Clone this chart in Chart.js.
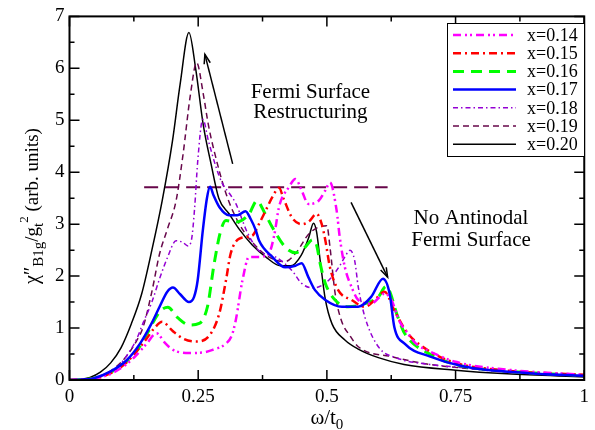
<!DOCTYPE html>
<html lang="en">
<head>
<meta charset="UTF-8">
<title>B1g Raman response vs doping</title>
<script src="https://cdn.jsdelivr.net/npm/chart.js"></script>
<style>
  html, body { margin: 0; padding: 0; background: #fff; }
</style>
</head>
<body>
<canvas id="myChart" width="595" height="430"></canvas>
<script>
// ---- data: [omega/t0, chi''] ----
const x014 = [[0,0],[0.03,0.01],[0.05,0.03],[0.08,0.12],[0.11,0.3],[0.13,0.48],[0.15,0.7],[0.169,0.9],[0.185,0.72],[0.201,0.58],[0.233,0.52],[0.26,0.53],[0.278,0.58],[0.304,0.7],[0.315,0.85],[0.323,1.15],[0.336,1.92],[0.349,2.37],[0.368,2.37],[0.387,2.43],[0.398,2.8],[0.407,3.33],[0.426,3.71],[0.439,3.87],[0.451,3.65],[0.464,3.39],[0.484,3.45],[0.497,3.65],[0.506,3.8],[0.519,3.26],[0.525,2.75],[0.535,2.17],[0.548,1.79],[0.561,1.54],[0.586,1.47],[0.612,1.66],[0.625,1.55],[0.64,1.15],[0.657,0.9],[0.673,0.7],[0.7,0.55],[0.75,0.35],[0.85,0.2],[1,0.1]];
const x015 = [[0,0],[0.03,0.01],[0.05,0.03],[0.08,0.13],[0.11,0.33],[0.13,0.55],[0.15,0.8],[0.165,1.0],[0.18,1.12],[0.2,0.95],[0.22,0.8],[0.246,0.74],[0.272,0.86],[0.291,1.28],[0.304,1.92],[0.313,2.43],[0.33,2.72],[0.355,2.78],[0.368,3.0],[0.381,3.26],[0.394,3.52],[0.407,3.7],[0.416,3.49],[0.432,3.13],[0.451,3.0],[0.465,3.05],[0.48,3.2],[0.49,3.0],[0.497,2.69],[0.506,2.17],[0.522,1.73],[0.548,1.54],[0.574,1.41],[0.593,1.54],[0.612,1.7],[0.631,1.34],[0.657,0.9],[0.7,0.55],[0.75,0.33],[0.85,0.18],[1,0.1]];
const x016 = [[0,0],[0.03,0.01],[0.05,0.04],[0.08,0.15],[0.11,0.35],[0.13,0.55],[0.15,0.88],[0.175,1.31],[0.191,1.4],[0.21,1.2],[0.233,1.06],[0.252,1.09],[0.268,1.41],[0.281,2.24],[0.294,2.88],[0.304,3.07],[0.323,3.04],[0.349,3.2],[0.364,3.45],[0.38,3.2],[0.394,2.94],[0.419,2.56],[0.439,2.45],[0.458,2.56],[0.472,2.7],[0.48,2.6],[0.487,2.24],[0.497,1.86],[0.516,1.54],[0.541,1.41],[0.574,1.47],[0.6,1.6],[0.615,1.8],[0.638,1.21],[0.651,0.9],[0.7,0.5],[0.75,0.3],[0.85,0.17],[1,0.09]];
const x017 = [[0,0],[0.02,0.005],[0.046,0.03],[0.079,0.16],[0.111,0.38],[0.137,0.7],[0.16,1.1],[0.175,1.41],[0.19,1.7],[0.201,1.78],[0.215,1.65],[0.232,1.5],[0.242,1.6],[0.249,1.92],[0.259,2.88],[0.267,3.5],[0.273,3.72],[0.28,3.55],[0.291,3.33],[0.31,3.17],[0.326,3.17],[0.342,3.25],[0.352,3.1],[0.362,2.88],[0.368,2.69],[0.394,2.37],[0.419,2.17],[0.439,2.2],[0.451,2.25],[0.464,1.98],[0.477,1.73],[0.497,1.54],[0.529,1.41],[0.561,1.41],[0.586,1.6],[0.609,1.95],[0.622,1.66],[0.631,1.02],[0.651,0.7],[0.701,0.45],[0.766,0.26],[0.894,0.13],[1,0.08]];
const x018 = [[0,0],[0.03,0.01],[0.05,0.04],[0.07,0.1],[0.09,0.22],[0.11,0.45],[0.13,0.78],[0.143,1.1],[0.16,1.5],[0.175,1.95],[0.19,2.35],[0.207,2.68],[0.22,2.65],[0.23,2.58],[0.237,2.7],[0.243,3.3],[0.249,4.2],[0.259,5.02],[0.27,4.6],[0.285,4.09],[0.297,3.78],[0.31,3.6],[0.323,3.4],[0.345,2.85],[0.368,2.49],[0.4,2.37],[0.432,2.11],[0.451,1.86],[0.474,1.77],[0.495,1.85],[0.509,1.98],[0.525,2.2],[0.535,2.37],[0.545,2.5],[0.554,2.3],[0.561,1.79],[0.574,1.21],[0.6,0.64],[0.637,0.42],[0.7,0.3],[0.75,0.25],[0.85,0.15],[1,0.08]];
const x019 = [[0,0],[0.03,0.01],[0.05,0.05],[0.07,0.12],[0.09,0.25],[0.11,0.45],[0.13,0.75],[0.143,1.02],[0.16,1.7],[0.175,2.43],[0.19,2.9],[0.207,3.45],[0.22,4.3],[0.235,5.5],[0.247,6.11],[0.26,5.5],[0.27,4.9],[0.281,4.41],[0.304,3.59],[0.33,3.0],[0.36,2.6],[0.387,2.37],[0.419,2.28],[0.44,2.45],[0.464,2.8],[0.485,2.95],[0.5,2.97],[0.506,2.56],[0.516,1.67],[0.528,1.15],[0.545,0.85],[0.561,0.64],[0.625,0.45],[0.7,0.3],[0.8,0.2],[0.9,0.12],[1,0.08]];
const x020 = [[0,0],[0.02,0.01],[0.04,0.05],[0.06,0.15],[0.08,0.33],[0.1,0.62],[0.12,1.08],[0.14,1.65],[0.16,2.5],[0.18,3.45],[0.2,4.6],[0.215,5.7],[0.232,6.69],[0.245,6.0],[0.26,4.9],[0.275,4.16],[0.29,3.5],[0.31,3.2],[0.33,2.9],[0.355,2.6],[0.38,2.38],[0.41,2.2],[0.43,2.2],[0.45,2.4],[0.465,2.75],[0.474,3.02],[0.48,2.85],[0.487,2.3],[0.497,1.55],[0.51,1.08],[0.535,0.77],[0.56,0.6],[0.6,0.43],[0.65,0.3],[0.75,0.19],[0.85,0.12],[1,0.06]];
// horizontal reference line
const refLine = [[0.145,3.71],[0.618,3.71]];

const dopings = ['x=0.14','x=0.15','x=0.16','x=0.17','x=0.18','x=0.19','x=0.20'];
const xTicks = [0, 0.25, 0.5, 0.75, 1];
const xTickLabels = ['0', '0.25', '0.5', '0.75', '1'];

// annotations (in data coordinates)
const note1 = ['Fermi Surface', 'Restructuring'];
const note1Pos = [0.468, 5.53, 5.15];
const note2 = ['No Antinodal', 'Fermi Surface'];
const note2Pos = [0.78, 3.11, 2.68];
const arrowUp = [[0.317, 4.16], [0.263, 6.27]];
const arrowDown = [[0.547, 3.42], [0.618, 1.98]];

const serif = '"Liberation Serif", "Times New Roman", serif';
const maroon = '#67074a';

const styles = [
  { color: '#ff00ff', width: 2.5, dash: [8, 4, 2, 3, 2, 4] },
  { color: '#ff0000', width: 2.5, dash: [8, 4, 2, 4] },
  { color: '#00ff00', width: 3, dash: [11, 7] },
  { color: '#0000ff', width: 2.5, dash: [] },
  { color: '#9400d3', width: 1.5, dash: [5, 3, 1.5, 3] },
  { color: maroon, width: 1.5, dash: [6, 4] },
  { color: '#000000', width: 1.5, dash: [] }
];
const series = [x014, x015, x016, x017, x018, x019, x020];

const toXY = arr => arr.map(([x, y]) => ({ x, y }));

const datasets = series.map((s, i) => ({
  label: dopings[i],
  data: toXY(s),
  borderColor: styles[i].color,
  borderWidth: styles[i].width,
  borderDash: styles[i].dash,
  pointRadius: 0,
  fill: false,
  cubicInterpolationMode: 'monotone',
  order: i === 3 ? 0 : 1
}));
datasets.push({
  label: 'ref',
  data: toXY(refLine),
  borderColor: maroon,
  borderWidth: 2,
  borderDash: [14, 7],
  pointRadius: 0,
  fill: false,
  order: 2
});

function drawArrow(ctx, x0, y0, x1, y1) {
  ctx.beginPath();
  ctx.moveTo(x0, y0);
  ctx.lineTo(x1, y1);
  ctx.stroke();
  const ang = Math.atan2(y1 - y0, x1 - x0);
  const h = 10, w = 0.32;
  ctx.beginPath();
  ctx.moveTo(x1 - h * Math.cos(ang - w), y1 - h * Math.sin(ang - w));
  ctx.lineTo(x1, y1);
  ctx.lineTo(x1 - h * Math.cos(ang + w), y1 - h * Math.sin(ang + w));
  ctx.stroke();
}

// draws text pieces with sub/superscripts, centred on 0
function drawRich(ctx, parts) {
  let total = 0;
  parts.forEach(p => {
    ctx.font = p.size + 'px ' + serif;
    p.w = ctx.measureText(p.t).width;
    total += p.w;
  });
  let cx = -total / 2;
  parts.forEach(p => {
    ctx.font = p.size + 'px ' + serif;
    ctx.fillText(p.t, cx, p.dy || 0);
    cx += p.w;
  });
}

const decor = {
  id: 'decor',
  afterDatasetsDraw(chart) {
    const { ctx, chartArea: a, scales: { x, y } } = chart;
    ctx.save();
    ctx.strokeStyle = '#000';
    ctx.fillStyle = '#000';
    ctx.setLineDash([]);

    // frame
    ctx.lineWidth = 2;
    ctx.strokeRect(a.left, a.top, a.right - a.left, a.bottom - a.top);

    // inward ticks on all sides
    ctx.lineWidth = 1.5;
    ctx.beginPath();
    for (let k = 0; k <= 8; k++) {
      const px = x.getPixelForValue(k * 0.125);
      const len = k % 2 === 0 ? 10 : 5;
      ctx.moveTo(px, a.bottom); ctx.lineTo(px, a.bottom - len);
      ctx.moveTo(px, a.top); ctx.lineTo(px, a.top + len);
    }
    for (let k = 0; k <= 14; k++) {
      const py = y.getPixelForValue(k * 0.5);
      const len = k % 2 === 0 ? 10 : 5;
      ctx.moveTo(a.left, py); ctx.lineTo(a.left + len, py);
      ctx.moveTo(a.right, py); ctx.lineTo(a.right - len, py);
    }
    ctx.stroke();

    // arrows
    ctx.lineWidth = 1.5;
    drawArrow(ctx, x.getPixelForValue(arrowUp[0][0]), y.getPixelForValue(arrowUp[0][1]),
      x.getPixelForValue(arrowUp[1][0]), y.getPixelForValue(arrowUp[1][1]));
    drawArrow(ctx, x.getPixelForValue(arrowDown[0][0]), y.getPixelForValue(arrowDown[0][1]),
      x.getPixelForValue(arrowDown[1][0]), y.getPixelForValue(arrowDown[1][1]));

    // annotation text
    ctx.font = '21px ' + serif;
    ctx.textAlign = 'center';
    ctx.textBaseline = 'middle';
    ctx.fillText(note1[0], x.getPixelForValue(note1Pos[0]), y.getPixelForValue(note1Pos[1]));
    ctx.fillText(note1[1], x.getPixelForValue(note1Pos[0]), y.getPixelForValue(note1Pos[2]));
    ctx.fillText(note2[0], x.getPixelForValue(note2Pos[0]), y.getPixelForValue(note2Pos[1]));
    ctx.fillText(note2[1], x.getPixelForValue(note2Pos[0]), y.getPixelForValue(note2Pos[2]));

    // legend box
    const lx = 447, ly = 23, lw = 137, lh = 133;
    ctx.fillStyle = '#fff';
    ctx.fillRect(lx, ly, lw, lh);
    ctx.lineWidth = 1;
    ctx.strokeStyle = '#000';
    ctx.strokeRect(lx + 0.5, ly + 0.5, lw, lh);
    ctx.font = '18px ' + serif;
    ctx.textAlign = 'left';
    ctx.textBaseline = 'middle';
    chart.data.datasets.forEach((ds, i) => {
      if (!ds.label.startsWith('x=')) return;
      const ry = 35 + i * 18.2;
      ctx.strokeStyle = ds.borderColor;
      ctx.lineWidth = ds.borderWidth;
      ctx.setLineDash(ds.borderDash);
      ctx.beginPath();
      ctx.moveTo(453, ry);
      ctx.lineTo(516, ry);
      ctx.stroke();
      ctx.setLineDash([]);
      ctx.fillStyle = '#000';
      ctx.fillText(ds.label, 527, ry + 1);
    });

    // axis titles
    ctx.fillStyle = '#000';
    ctx.textAlign = 'left';
    ctx.textBaseline = 'alphabetic';
    ctx.save();
    ctx.translate((a.left + a.right) / 2, 424);
    drawRich(ctx, [
      { t: 'ω/t', size: 21 },
      { t: '0', size: 15, dy: 5 }
    ]);
    ctx.restore();

    ctx.save();
    ctx.translate(38, 206);
    ctx.rotate(-Math.PI / 2);
    drawRich(ctx, [
      { t: 'χ″', size: 20 },
      { t: 'B1g', size: 15, dy: 5 },
      { t: '/g', size: 19 },
      { t: 't', size: 15, dy: 5 },
      { t: '2', size: 13, dy: -10 },
      { t: ' (arb. units)', size: 19 }
    ]);
    ctx.restore();

    ctx.restore();
  }
};

const ctx = document.getElementById('myChart').getContext('2d');
const myChart = new Chart(ctx, {
  type: 'line',
  data: { datasets: datasets },
  options: {
    responsive: false,
    animation: false,
    devicePixelRatio: 1,
    layout: { padding: { left: 0, right: 4, top: 15, bottom: 0 } },
    scales: {
      x: {
        type: 'linear',
        min: 0,
        max: 1,
        afterBuildTicks: s => { s.ticks = xTicks.map(v => ({ value: v })); },
        afterFit: s => { s.height = 50; },
        grid: { display: false, drawTicks: false },
        border: { display: false },
        ticks: {
          padding: 6,
          color: '#000',
          font: { family: serif, size: 19 },
          maxRotation: 0,
          callback: (v) => xTickLabels[xTicks.indexOf(v)]
        }
      },
      y: {
        min: 0,
        max: 7,
        afterFit: s => { s.width = 69.5; },
        grid: { display: false, drawTicks: false },
        border: { display: false },
        ticks: {
          stepSize: 1,
          padding: 5,
          color: '#000',
          font: { family: serif, size: 19 }
        }
      }
    },
    plugins: {
      legend: { display: false },
      tooltip: { enabled: false }
    }
  },
  plugins: [decor]
});
</script>
</body>
</html>
